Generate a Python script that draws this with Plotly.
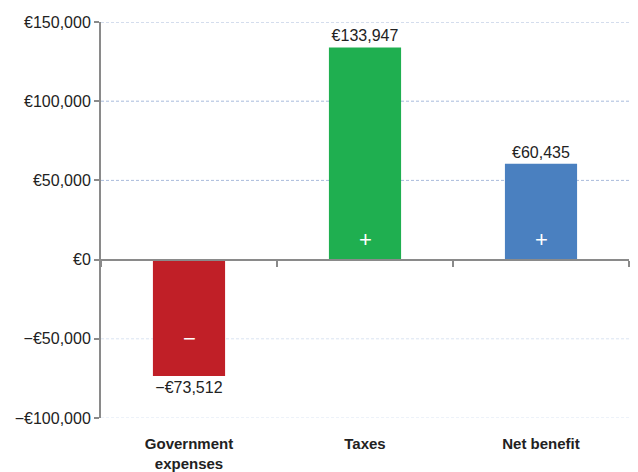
import plotly.graph_objects as go

categories = ["Government<br>expenses", "Taxes", "Net benefit"]
values = [-73512, 133947, 60435]
value_labels = ["−€73,512", "€133,947", "€60,435"]
signs = ["−", "+", "+"]
bar_colors = ["#C01F27", "#1FAF50", "#4A80C0"]
y_ticks = [-100000, -50000, 0, 50000, 100000, 150000]
y_tick_labels = ["−€100,000", "−€50,000", "€0", "€50,000", "€100,000", "€150,000"]

AX = "#8a8a8a"
FONT = "Arial, Liberation Sans, sans-serif"

fig = go.Figure()
fig.add_trace(go.Bar(
    x=categories, y=values, marker=dict(color=bar_colors, line=dict(width=0)),
    width=0.41, text=value_labels, textposition="outside", cliponaxis=False,
    textfont=dict(family=FONT, size=16, color="#222222"), hoverinfo="skip",
))
# invisible trace so the zero-line axis gets categories
fig.add_trace(go.Bar(x=categories, y=[0, 0, 0], xaxis="x2", opacity=0,
                     hoverinfo="skip", showlegend=False))

shapes = []
for v in y_ticks:
    if v == 0:
        continue
    shapes.append(dict(type="line", xref="paper", x0=0, x1=1, yref="y", y0=v, y1=v,
                       line=dict(color="#a9bbdc" if v > 0 else "#dbe4f2", width=1, dash="3px,2px"),
                       layer="below"))

annotations = []
for c, v, s in zip(categories, values, signs):
    if v >= 0:
        annotations.append(dict(x=c, y=0, yref="y", text=s, showarrow=False, yanchor="bottom",
                                yshift=6, font=dict(family=FONT, size=22, color="white")))
    else:
        annotations.append(dict(x=c, y=v * 0.68, yref="y", text=s, showarrow=False,
                                font=dict(family=FONT, size=22, color="white")))

fig.update_layout(
    width=630, height=464, margin=dict(l=93, r=9, t=14, b=54),
    paper_bgcolor="white", plot_bgcolor="white", showlegend=False, bargap=0.59,
    shapes=shapes, annotations=annotations,
    xaxis=dict(showline=False, showgrid=False, zeroline=False, ticks="outside", ticklen=12,
               tickcolor="rgba(0,0,0,0)", automargin=False,
               tickfont=dict(family=FONT, size=15, color="#222222", weight="bold")),
    xaxis2=dict(overlaying="x", anchor="free", position=0.4, matches="x", showticklabels=False,
                showline=True, linecolor=AX, linewidth=2, ticks="outside", tickson="boundaries",
                ticklen=6, tickcolor=AX, tickwidth=1.5, showgrid=False, zeroline=False,
                automargin=False),
    yaxis=dict(range=[-100000, 150000], tickvals=y_ticks, ticktext=y_tick_labels,
               showgrid=False, zeroline=False, showline=True, linecolor=AX, linewidth=2,
               ticks="outside", ticklen=5, tickcolor=AX, tickwidth=1.5, automargin=False,
               tickfont=dict(family=FONT, size=16, color="#222222")),
)

fig.write_html("out.html")
